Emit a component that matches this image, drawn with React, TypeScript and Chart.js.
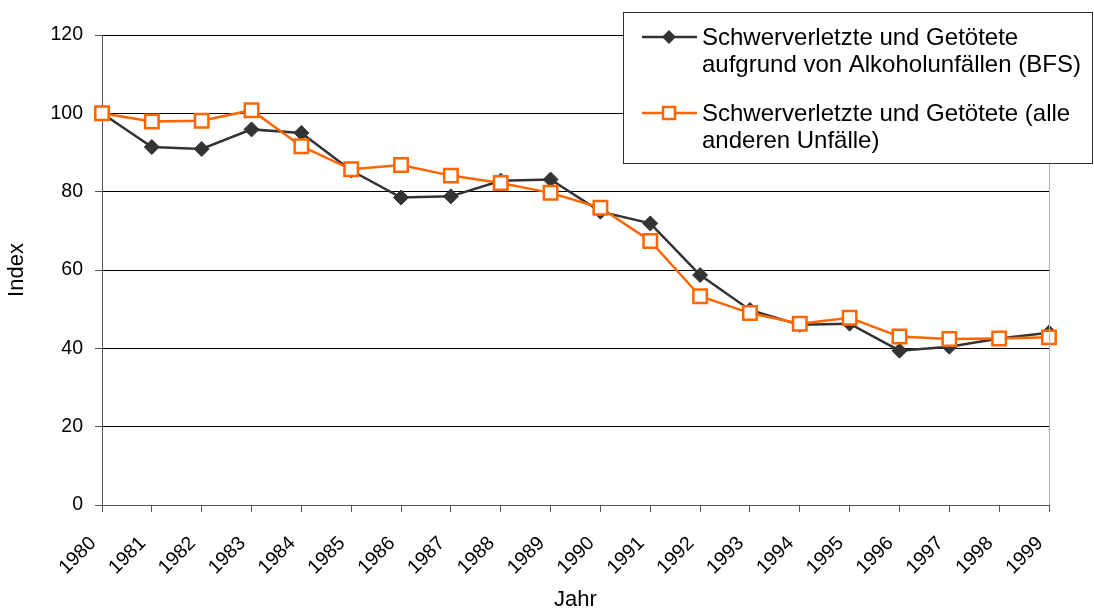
import React, { useEffect, useRef } from "react";
import { Chart, registerables } from "chart.js";

Chart.register(...registerables);

const years = ["1980", "1981", "1982", "1983", "1984", "1985", "1986", "1987", "1988", "1989", "1990", "1991", "1992", "1993", "1994", "1995", "1996", "1997", "1998", "1999"];
const alkoholUnfaelle = [100, 91.4, 90.9, 95.9, 95.0, 85.4, 78.5, 78.8, 82.8, 83.1, 74.9, 71.9, 58.7, 49.8, 46.0, 46.3, 39.4, 40.4, 42.5, 44.0];
const andereUnfaelle = [100, 97.9, 98.1, 100.8, 91.6, 85.7, 86.8, 84.1, 82.2, 79.7, 75.9, 67.4, 53.3, 49.0, 46.3, 47.8, 43.0, 42.4, 42.5, 42.8];
const legendLines = [
  ["Schwerverletzte und Getötete", "aufgrund von Alkoholunfällen (BFS)"],
  ["Schwerverletzte und Getötete (alle", "anderen Unfälle)"],
];
const yTitle = "Index";
const xTitle = "Jahr";

const FONT = "'Liberation Sans', Arial, sans-serif";
const BLACK = "#333333";
const ORANGE = "#FF6600";

const overlayPlugin = {
  id: "overlay",
  afterDraw(chart: any) {
    const { ctx, chartArea } = chart;
    ctx.save();
    // right border of plot area
    ctx.strokeStyle = "#b0b0b0";
    ctx.lineWidth = 1;
    ctx.beginPath();
    ctx.moveTo(Math.round(chartArea.right) + 0.5, chartArea.top);
    ctx.lineTo(Math.round(chartArea.right) + 0.5, chartArea.bottom);
    ctx.stroke();

    // legend box
    const bx = 623, by = 12, bw = 470, bh = 152;
    ctx.fillStyle = "#ffffff";
    ctx.fillRect(bx, by, bw, bh);
    ctx.strokeStyle = "#333333";
    ctx.lineWidth = 1;
    ctx.strokeRect(bx + 0.5, by + 0.5, bw - 1, bh - 1);

    const entries = [
      { y: 37, color: BLACK, style: "diamond", lines: legendLines[0] },
      { y: 113, color: ORANGE, style: "square", lines: legendLines[1] },
    ];
    ctx.font = "24px " + FONT;
    ctx.textBaseline = "middle";
    ctx.textAlign = "left";
    for (const e of entries) {
      ctx.strokeStyle = e.color;
      ctx.lineWidth = 2.5;
      ctx.beginPath();
      ctx.moveTo(642, e.y);
      ctx.lineTo(697, e.y);
      ctx.stroke();
      if (e.style === "diamond") {
        ctx.fillStyle = e.color;
        ctx.beginPath();
        ctx.moveTo(669, e.y - 7);
        ctx.lineTo(676, e.y);
        ctx.lineTo(669, e.y + 7);
        ctx.lineTo(662, e.y);
        ctx.closePath();
        ctx.fill();
      } else {
        ctx.fillStyle = "#ffffff";
        ctx.fillRect(663, e.y - 6, 12, 12);
        ctx.lineWidth = 2.5;
        ctx.strokeRect(663, e.y - 6, 12, 12);
      }
      ctx.fillStyle = "#000000";
      e.lines.forEach((t: string, i: number) => {
        ctx.fillText(t, 702, e.y + 1 + i * 27);
      });
    }
    ctx.restore();
  },
};

export default function App() {
  const canvasRef = useRef<HTMLCanvasElement | null>(null);

  useEffect(() => {
    if (!canvasRef.current) return;
    const chart = new Chart(canvasRef.current, {
      type: "line",
      data: {
        labels: years,
        datasets: [
          {
            label: legendLines[0].join(" "),
            data: alkoholUnfaelle,
            order: 1,
            borderColor: BLACK,
            backgroundColor: BLACK,
            borderWidth: 2.5,
            pointStyle: "rectRot",
            pointRadius: 7.5,
            pointBorderWidth: 1,
            pointBackgroundColor: BLACK,
            pointBorderColor: BLACK,
            tension: 0,
          },
          {
            label: legendLines[1].join(" "),
            data: andereUnfaelle,
            order: 0,
            borderColor: ORANGE,
            backgroundColor: "#ffffff",
            borderWidth: 2.5,
            pointStyle: "rect",
            pointRadius: 9.5,
            pointBorderWidth: 2.5,
            pointBackgroundColor: "#ffffff",
            pointBorderColor: ORANGE,
            tension: 0,
          },
        ],
      },
      options: {
        animation: false,
        responsive: false,
        maintainAspectRatio: false,
        layout: { padding: { left: 0, right: 45, top: 35, bottom: 0 } },
        plugins: {
          legend: { display: false },
          tooltip: { enabled: false },
        },
        scales: {
          x: {
            type: "category",
            offset: false,
            afterFit: (scale: any) => {
              scale.height = 110;
            },
            grid: {
              drawOnChartArea: false,
              drawTicks: true,
              tickLength: 7,
              color: "#555555",
            },
            border: { color: "#555555", width: 1 },
            ticks: {
              autoSkip: false,
              maxRotation: 45,
              minRotation: 45,
              padding: 20,
              labelOffset: -9,
              color: "#000000",
              font: { family: FONT, size: 19.5 },
            },
            title: {
              display: true,
              text: xTitle,
              color: "#000000",
              font: { family: FONT, size: 22 },
              padding: { top: 4, bottom: 2 },
            },
          },
          y: {
            min: 0,
            max: 120,
            afterFit: (scale: any) => {
              scale.width = 102;
            },
            grid: {
              color: "#000000",
              lineWidth: 1,
              drawTicks: true,
              tickLength: 7,
              tickColor: "#555555",
            },
            border: { color: "#555555", width: 1 },
            ticks: {
              stepSize: 20,
              padding: 12,
              color: "#000000",
              font: { family: FONT, size: 19.5 },
            },
            title: {
              display: true,
              text: yTitle,
              color: "#000000",
              font: { family: FONT, size: 22 },
              padding: { top: 4, bottom: 4 },
            },
          },
        },
      },
      plugins: [overlayPlugin],
    });
    return () => chart.destroy();
  }, []);

  return (
    <div style={{ position: "fixed", left: 0, top: 0, width: 1094, height: 615, background: "#fff" }}>
      <canvas ref={canvasRef} width={1094} height={615} style={{ width: 1094, height: 615 }} />
    </div>
  );
}
